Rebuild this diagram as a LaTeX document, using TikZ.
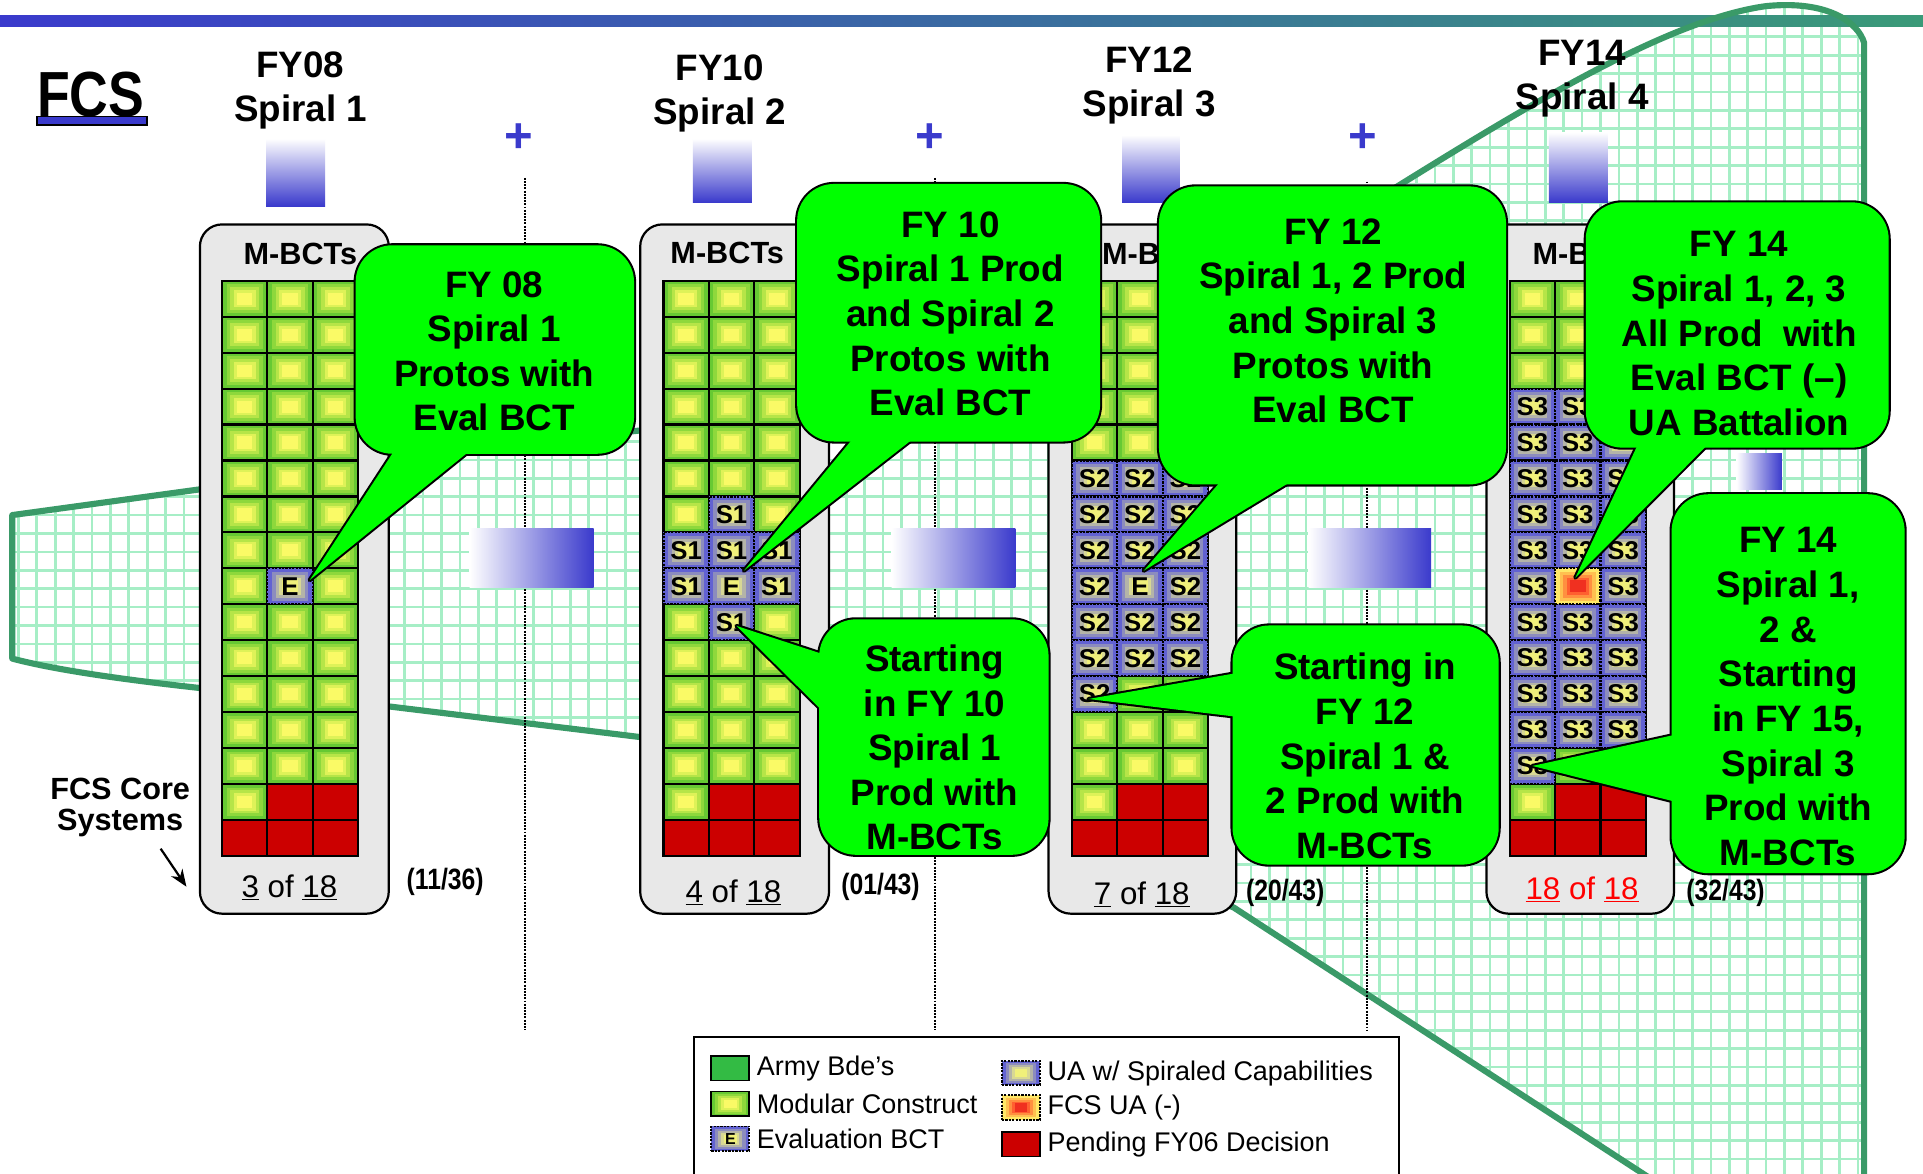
\documentclass[tikz,border=0pt]{standalone}
\usepackage{fontspec}
\setmainfont{Liberation Sans}
\newfontfamily\condfont[FakeStretch=0.84]{Liberation Sans}
\usetikzlibrary{calc,positioning,arrows.meta}

\definecolor{hornline}{HTML}{3A9A68}
\definecolor{horngrid}{HTML}{A6EEC6}
\definecolor{barblue}{HTML}{3A3ACC}
\definecolor{barteal}{HTML}{3A9A78}
\definecolor{boxgray}{HTML}{E8E8E8}
\definecolor{bubblegreen}{HTML}{00FF00}
\definecolor{pendred}{HTML}{CC0000}
\definecolor{armygreen}{HTML}{33BB44}
\definecolor{modA}{HTML}{66C933}
\definecolor{modB}{HTML}{8ED83C}
\definecolor{modC}{HTML}{B6E548}
\definecolor{modD}{HTML}{DEF258}
\definecolor{modE}{HTML}{FAFA66}
\definecolor{uaA}{HTML}{6262D2}
\definecolor{uaB}{HTML}{8C8CBE}
\definecolor{uaC}{HTML}{B4B4A8}
\definecolor{uaD}{HTML}{D8D894}
\definecolor{uaE}{HTML}{F0F07A}
\definecolor{fcA}{HTML}{FFE868}
\definecolor{fcB}{HTML}{FFC050}
\definecolor{fcC}{HTML}{FF9040}
\definecolor{fcD}{HTML}{FF6030}
\definecolor{fcE}{HTML}{F03020}

% one band of a cell fill
\newcommand{\band}[2]{\fill[#2] ($(path picture bounding box.south west)!#1!(path picture bounding box.north east)$) rectangle ($(path picture bounding box.north east)!#1!(path picture bounding box.south west)$);}

% outline of the widening background
\newcommand{\hornpath}{(10,420) -- (163,399) -- (317,373) -- (522,351) -- (676,333) -- (855,300) -- (1008,232) .. controls (1150,150) and (1330,20) .. (1440,5) .. controls (1490,0) and (1515,18) .. (1520,35) -- (1520,965) -- (1352,965) -- (1006,740) -- (855,680) -- (676,621) -- (522,601) -- (317,576) -- (163,561) .. controls (90,553) and (40,545) .. (10,537) -- cycle}

% speech bubble: name, centre, width, height, base a, base b, tip
\newcommand{\callout}[7]{%
  \node[bubble, minimum width=#3, minimum height=#4] (#1) at (#2) {};
  \draw[bubbleline] (#5) -- (#7) -- (#6);
  \fill[bubblegreen, rounded corners=30] (#1.south west) rectangle (#1.north east);
  \fill[bubblegreen] (#5) -- (#7) -- (#6) -- cycle;
}

\tikzset{
  cell/.style={minimum width=37, minimum height=29.3, inner sep=0pt, outer sep=0pt,
               line width=1.8, font=\fontsize{21}{21}\selectfont\bfseries},
  banded/.style n args={5}{fill=#1, path picture={\band{0.1}{#2}\band{0.18}{#3}\band{0.26}{#4}\band{0.33}{#5}}},
  modcell/.style={cell, draw=black, banded={modA}{modB}{modC}{modD}{modE}},
  pendcell/.style={cell, draw=black, fill=pendred},
  uacell/.style={cell, draw=black, densely dotted, banded={uaA}{uaB}{uaC}{uaD}{uaE}},
  fcscell/.style={cell, draw=black, densely dotted, banded={fcA}{fcB}{fcC}{fcD}{fcE}},
  armycell/.style={cell, draw=black, fill=armygreen},
  swatch/.style={minimum width=31, minimum height=20, line width=1.5},
  mbox/.style={draw=black, fill=boxgray, line width=1.8, rounded corners=18, inner sep=0pt, outer sep=0pt},
  head/.style={align=center, inner sep=0pt, font=\fontsize{30}{36}\selectfont\bfseries},
  boxtitle/.style={inner sep=0pt, font=\fontsize{25}{25}\selectfont\bfseries},
  count/.style={inner sep=0pt, font=\fontsize{25.5}{26}\selectfont},
  ratio/.style={inner sep=0pt, font=\condfont\fontsize{24}{24}\selectfont\bfseries},
  plus/.style={inner sep=0pt, text=barblue, font=\fontsize{40}{40}\selectfont\bfseries},
  sep/.style={densely dotted, line width=1.6},
  bubble/.style={draw=black, line width=3.4, rounded corners=30, inner sep=0pt, outer sep=0pt},
  bubbleline/.style={draw=black, line width=3.4, line join=round},
  bubbletext/.style={align=center, inner sep=0pt, font=\fontsize{30}{36.4}\selectfont\bfseries},
  legendtext/.style={inner sep=0pt, font=\fontsize{22}{22}\selectfont},
  pointer/.style={-{Stealth[length=14pt,width=11pt]}, line width=1.8},
}

\begin{document}
\begin{tikzpicture}[x=1pt,y=-1pt]
  \useasboundingbox (0,0) rectangle (1568,957);
  \fill[white] (0,0) rectangle (1568,957);

  % background trumpet
  \fill[white] \hornpath;
  \begin{scope}
    \clip \hornpath;
    \draw[horngrid, line width=2.2, step=15pt] (0,965) grid (1568,0);
  \end{scope}
  \shade[left color=barblue, right color=barteal] (0,13) rectangle (1568,22);
  \draw[hornline, line width=5, line join=round] \hornpath;

  % title
  \node[inner sep=0pt, font=\condfont\fontsize{52}{52}\selectfont\bfseries] (fcs) at (74,77) {FCS};
  \draw[fill=barblue, line width=1.2] (30,95) rectangle (120,102);

  % spiral headers
  \node[head] (h1) at (245,74) {FY08\\Spiral 1};
  \node[head] (h2) at (587,76) {FY10\\Spiral 2};
  \node[head] (h3) at (937,69.5) {FY12\\Spiral 3};
  \node[head] (h4) at (1290,64) {FY14\\Spiral 4};
  \shade[top color=white, bottom color=barblue] (217,113) rectangle (265,168);
  \shade[top color=white, bottom color=barblue] (565,113) rectangle (613,165);
  \shade[top color=white, bottom color=barblue] (915,110) rectangle (962,165);
  \shade[top color=white, bottom color=barblue] (1263,108) rectangle (1311,165);

  % separators
  \node[plus] (p1) at (423,113) {+};
  \node[plus] (p2) at (758,113) {+};
  \node[plus] (p3) at (1111,113) {+};
  \draw[sep] (428,145) -- (428,840);
  \draw[sep] (762,145) -- (762,840);
  \draw[sep] (1115,148) -- (1115,840);
  \shade[left color=white, right color=barblue] (383,431) rectangle (484,479);
  \shade[left color=white, right color=barblue] (727,431) rectangle (828,479);
  \shade[left color=white, right color=barblue] (1067,431) rectangle (1167,479);
  \shade[left color=white, right color=barblue] (1416,370) rectangle (1453,399);

  % M-BCT boxes
  \node[mbox, minimum width=154, minimum height=562] (box1) at (240,464) {};
  \node[mbox, minimum width=154, minimum height=562] (box2) at (599,464) {};
  \node[mbox, minimum width=153, minimum height=562] (box3) at (931.5,464) {};
  \node[mbox, minimum width=153, minimum height=562] (box4) at (1288.5,464) {};
  \node[boxtitle] (t1) at (245,207) {M-BCTs};
  \node[boxtitle] (t2) at (593,206) {M-BCTs};
  \node[boxtitle] (t3) at (945,207) {M-BCTs};
  \node[boxtitle] (t4) at (1296,207) {M-BCTs};
  \node[count] (n1) at (236,723.5) {\underline{3} of \underline{18}};
  \node[count] (n2) at (598,727.5) {\underline{4} of \underline{18}};
  \node[count] (n3) at (931,729.5) {\underline{7} of \underline{18}};
  \node[count, text=red] (n4) at (1290,725.5) {\underline{18} of \underline{18}};
  \node[ratio] (r1) at (363,719) {(11/36)};
  \node[ratio] (r2) at (718,723) {(01/43)};
  \node[ratio] (r3) at (1048,728) {(20/43)};
  \node[ratio] (r4) at (1407,728) {(32/43)};

  % cells
  \foreach \b/\gx in {1/181,2/541,3/874,4/1231}{
    \foreach \r in {0,...,15}{
      \foreach \c in {0,1,2}{
        \pgfmathsetmacro{\cx}{\gx+37*\c+18.5}
        \pgfmathsetmacro{\cy}{229+29.3*\r+14.65}
        \pgfmathtruncatemacro{\kind}{(\r>14)||(\r==14 && \c>0)}
        \ifnum\kind=1
          \node[pendcell] (m\b-\r-\c) at (\cx,\cy) {};
        \else
          \node[modcell] (m\b-\r-\c) at (\cx,\cy) {};
        \fi
      }
    }
  }
  \node[uacell] (s1-8-1) at (m1-8-1) {E};
  \foreach \r/\c in {6/1,7/0,7/1,7/2,8/0,8/2,9/1}{
    \node[uacell] (s2-\r-\c) at (m2-\r-\c) {S1};
  }
  \node[uacell] (s2-8-1) at (m2-8-1) {E};
  \foreach \r in {5,...,10}{
    \foreach \c in {0,1,2}{
      \pgfmathtruncatemacro{\isE}{\r==8 && \c==1}
      \ifnum\isE=0 \node[uacell] (s3-\r-\c) at (m3-\r-\c) {S2};\fi
    }
  }
  \node[uacell] (s3-11-0) at (m3-11-0) {S2};
  \node[uacell] (s3-8-1) at (m3-8-1) {E};
  \foreach \r in {3,...,12}{
    \foreach \c in {0,1,2}{
      \pgfmathtruncatemacro{\isE}{\r==8 && \c==1}
      \pgfmathtruncatemacro{\hid}{\r<5 && \c==2}
      \ifnum\isE=0
        \ifnum\hid=1 \node[uacell] (s4-\r-\c) at (m4-\r-\c) {};
        \else \node[uacell] (s4-\r-\c) at (m4-\r-\c) {S3};\fi
      \fi
    }
  }
  \node[uacell] (s4-13-0) at (m4-13-0) {S3};
  \node[fcscell] (s4-8-1) at (m4-8-1) {};

  % core systems note
  \node[align=center, inner sep=0pt, font=\fontsize{25}{25}\selectfont\bfseries] (core) at (98,658.5) {FCS Core\\Systems};
  \coordinate (coretail) at (131,692);
  \coordinate (coretip) at (152,723);
  \draw[pointer] (coretail) -- (coretip);

  % bubbles
  \callout{c1}{403.5,285}{227}{170}{325,362}{390,362}{$(s1-8-1)+(16,-5)$}
  \node[bubbletext] (c1t) at (403,286.5) {FY 08\\Spiral 1\\Protos with\\Eval BCT};
  \callout{c2}{773.5,255}{247}{210}{700,352}{752,352}{$(s2-8-1.north)+(10,2)$}
  \node[bubbletext] (c2t) at (775,256) {FY 10\\Spiral 1 Prod\\and Spiral 2\\Protos with\\Eval BCT};
  \callout{c3}{1086.5,273.5}{283}{243}{1000,387}{1062,387}{$(s3-8-1.north)+(3,2)$}
  \node[bubbletext] (c3t) at (1087,261.5) {FY 12\\Spiral 1, 2 Prod\\and Spiral 3\\Protos with\\Eval BCT};
  \callout{c4}{1416.5,265}{247}{200}{1338,357}{1398,357}{$(s4-8-1)+(-2,-7)$}
  \node[bubbletext] (c4t) at (1418,272) {FY 14\\Spiral 1, 2, 3\\All Prod\ \ with\\Eval BCT (–)\\UA Battalion};
  \callout{c5}{761.5,601}{187}{192}{676,535}{676,585}{$(s2-9-1)+(4,3)$}
  \node[bubbletext] (c5t) at (762,609.5) {Starting\\in FY 10\\Spiral 1\\Prod with\\M-BCTs};
  \callout{c6}{1113.5,607.5}{217}{195}{1013,548}{1013,585}{$(s3-11-0)+(-5,4)$}
  \node[bubbletext] (c6t) at (1113,616.5) {Starting in\\FY 12\\Spiral 1 \&\\2 Prod with\\M-BCTs};
  \callout{c7}{1458,557.5}{190}{309}{1371,598}{1371,655}{s4-13-0.center}
  \node[bubbletext] (c7t) at (1458,568) {FY 14\\Spiral 1,\\2 \&\\Starting\\in FY 15,\\Spiral 3\\Prod with\\M-BCTs};

  % legend
  \node[draw=black, fill=white, line width=1.5, minimum width=575, minimum height=125, anchor=north west, inner sep=0pt] (legend) at (565,845) {};
  \node[armycell, swatch] (lg1) at (595.5,871) {};
  \node[modcell, swatch] (lg2) at (595.5,900) {};
  \node[uacell, swatch, font=\fontsize{13}{13}\selectfont\bfseries] (lg3) at (595.5,928.5) {E};
  \node[uacell, swatch] (lg4) at (832.5,875) {};
  \node[fcscell, swatch] (lg5) at (832.5,903) {};
  \node[pendcell, swatch] (lg6) at (832.5,933) {};
  \node[legendtext, right=6pt of lg1] (lt1) {Army Bde’s};
  \node[legendtext, right=6pt of lg2] (lt2) {Modular Construct};
  \node[legendtext, right=6pt of lg3] (lt3) {Evaluation BCT};
  \node[legendtext, right=6pt of lg4] (lt4) {UA w/ Spiraled Capabilities};
  \node[legendtext, right=6pt of lg5] (lt5) {FCS UA (-)};
  \node[legendtext, right=6pt of lg6] (lt6) {Pending FY06 Decision};
\end{tikzpicture}
\end{document}
